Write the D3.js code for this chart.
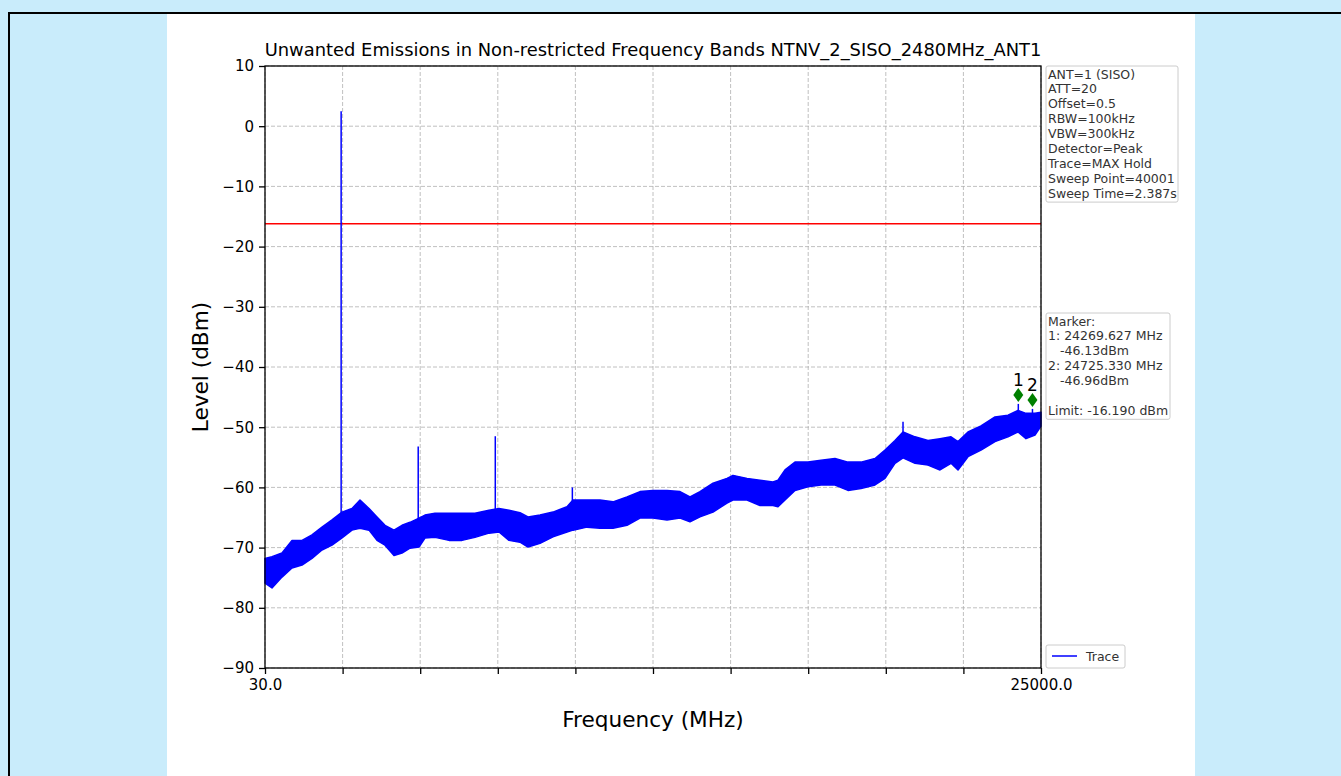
<!DOCTYPE html>
<html>
<head>
<meta charset="utf-8">
<script src="https://cdn.jsdelivr.net/npm/d3@7"></script>
<style>
  body { margin: 0; background: #c9ecfb; overflow: hidden; }
  svg text { font-family: "DejaVu Sans", sans-serif; }
</style>
</head>
<body>
<svg id="chart"></svg>
<script>
// datos
const tituloGrafica = 'Unwanted Emissions in Non-restricted Frequency Bands NTNV_2_SISO_2480MHz_ANT1'
const xTicks = [30, 2527, 5024, 7521, 10018, 12515, 15012, 17509, 20006, 22503, 25000]
const xTickLabels = ['30.0', '', '', '', '', '', '', '', '', '', '25000.0']
const yTicks = [10, 0, -10, -20, -30, -40, -50, -60, -70, -80, -90]

const traceFreq = [30, 255, 577, 899, 1221, 1542, 1864, 2186, 2508, 2829, 3087, 3377, 3634, 3891, 4181, 4438, 4696, 4985, 5178, 5500,
  5951, 6369, 6787, 7238, 7560, 7881, 8235, 8493, 8879, 9297, 9748, 9941, 10391, 10810, 11228, 11678, 12097, 12515, 12966, 13384,
  13706, 14027, 14446, 14896, 15089, 15540, 15958, 16376, 16537, 16763, 17084, 17503, 17921, 18371, 18790, 19208, 19659, 19980, 20302, 20560,
  20946, 21364, 21750, 22104, 22329, 22651, 23069, 23520, 23938, 24260, 24517, 24807, 25000]
const traceHigh = [-71.8, -71.5, -70.9, -68.8, -68.8, -67.9, -66.6, -65.4, -64.1, -63.5, -62.1, -63.5, -64.9, -66.3, -67.1, -66.3, -65.8, -65.1, -64.6, -64.3,
  -64.3, -64.3, -64.3, -63.8, -63.5, -63.8, -64.2, -64.9, -64.6, -64.1, -63.2, -62.1, -62.1, -62.1, -62.4, -61.6, -60.7, -60.5, -60.5, -60.7,
  -61.6, -60.7, -59.3, -58.5, -58.0, -58.5, -58.8, -59.1, -58.8, -57.1, -55.8, -55.8, -55.5, -55.2, -55.8, -55.8, -55.2, -53.8, -52.2, -50.8,
  -51.6, -52.2, -51.9, -51.6, -52.4, -50.8, -49.8, -48.3, -48.0, -47.2, -47.7, -47.7, -47.5]
const traceLow = [-75.9, -76.7, -74.9, -73.4, -72.9, -71.8, -70.4, -69.6, -68.4, -67.1, -66.8, -67.1, -68.8, -69.6, -71.3, -70.9, -70.1, -69.9, -68.4, -68.3,
  -68.8, -68.8, -68.3, -67.6, -67.4, -68.8, -69.1, -69.9, -69.3, -68.2, -67.4, -67.1, -66.6, -66.8, -66.8, -66.3, -65.1, -65.1, -65.4, -65.1,
  -65.7, -64.9, -64.1, -62.6, -62.1, -62.1, -63.0, -63.0, -63.2, -62.1, -60.5, -59.9, -59.6, -59.6, -60.5, -60.2, -59.6, -58.5, -56.0, -55.1,
  -56.0, -56.3, -57.1, -56.0, -57.1, -54.9, -53.8, -52.4, -51.6, -50.8, -51.9, -51.3, -49.8]

const spikeFreq = [2480, 4960, 7440, 9920, 20560, 24270, 24725]
const spikeLevel = [2.5, -53.2, -51.5, -60.0, -49.1, -46.13, -46.96]
const spikeBase = [-66, -68, -66, -66, -54, -49, -49]

const limitLevel = -16.19
const markerFreq = [24269.627, 24725.330]
const markerLevel = [-46.13, -46.96]
const markerNames = ['1', '2']

const infoLines = ['ANT=1 (SISO)', 'ATT=20', 'Offset=0.5', 'RBW=100kHz', 'VBW=300kHz', 'Detector=Peak', 'Trace=MAX Hold', 'Sweep Point=40001', 'Sweep Time=2.387s']
const markerLines = ['Marker:', '1: 24269.627 MHz', '   -46.13dBm', '2: 24725.330 MHz', '   -46.96dBm', '', 'Limit: -16.190 dBm']

const W = 1341, H = 776
const plot = { left: 265, right: 1041, top: 66, bottom: 668 }

let svg = d3.select('#chart').attr('width', W).attr('height', H)

// fondo de la pagina
svg.append('rect').attr('width', W).attr('height', H).attr('fill', '#c9ecfb')
svg.append('rect').attr('x', 167).attr('y', 14).attr('width', 1028).attr('height', H).attr('fill', '#fff')
svg.append('path').attr('d', 'M9,' + H + 'V13H' + W).attr('fill', 'none').attr('stroke', '#000').attr('stroke-width', 2)

let xScale = d3.scaleLinear().domain([30, 25000]).range([plot.left, plot.right])
let yScale = d3.scaleLinear().domain([-90, 10]).range([plot.bottom, plot.top])

// rejilla
let grid = svg.append('g')
grid.selectAll('.gx').data(xTicks).enter().append('line')
  .attr('x1', d => xScale(d)).attr('x2', d => xScale(d))
  .attr('y1', plot.top).attr('y2', plot.bottom)
grid.selectAll('.gy').data(yTicks).enter().append('line')
  .attr('x1', plot.left).attr('x2', plot.right)
  .attr('y1', d => yScale(d)).attr('y2', d => yScale(d))
grid.selectAll('line').attr('stroke', '#b0b0b0').attr('stroke-width', 0.8).attr('stroke-dasharray', '4,2')

// limite
svg.append('line')
  .attr('x1', plot.left).attr('x2', plot.right)
  .attr('y1', yScale(limitLevel)).attr('y2', yScale(limitLevel))
  .attr('stroke', '#ff0000').attr('stroke-width', 1.5)

// picos
svg.selectAll('.spike').data(spikeFreq).enter().append('line')
  .attr('x1', d => xScale(d)).attr('x2', d => xScale(d))
  .attr('y1', (d, i) => yScale(spikeLevel[i])).attr('y2', (d, i) => yScale(spikeBase[i]))
  .attr('stroke', '#0000ff').attr('stroke-width', 1.5)

// traza
let area = d3.area()
  .x((d, i) => xScale(traceFreq[i]))
  .y0((d, i) => yScale(traceLow[i]))
  .y1((d, i) => yScale(traceHigh[i]))
svg.append('path').datum(traceFreq).attr('d', area)
  .attr('fill', '#0000ff').attr('stroke', '#0000ff').attr('stroke-width', 1.5).attr('stroke-linejoin', 'round')

// marcadores
let mk = svg.selectAll('.mk').data(markerFreq).enter().append('g')
  .attr('transform', (d, i) => 'translate(' + xScale(d) + ',' + (yScale(markerLevel[i]) - 9) + ')')
mk.append('path').attr('d', 'M0,-7L5,0L0,7L-5,0Z').attr('fill', '#008000')
mk.append('text').attr('y', -9).attr('text-anchor', 'middle').attr('font-size', 17).text((d, i) => markerNames[i])

// ejes
let xAxis = d3.axisBottom(xScale).tickValues(xTicks).tickSize(6).tickPadding(5).tickFormat((d, i) => xTickLabels[i])
let yAxis = d3.axisLeft(yScale).tickValues(yTicks).tickSize(6).tickPadding(5)
  .tickFormat(d => d < 0 ? '\u2212' + Math.abs(d) : d)

let gx = svg.append('g').attr('transform', 'translate(0,' + plot.bottom + ')').call(xAxis)
let gy = svg.append('g').attr('transform', 'translate(' + plot.left + ',0)').call(yAxis)
;[gx, gy].forEach(g => {
  g.select('.domain').remove()
  g.selectAll('line').attr('stroke', '#000').attr('stroke-width', 1.3)
  g.selectAll('text').attr('font-size', 15).attr('fill', '#000').attr('font-family', 'DejaVu Sans')
})

svg.append('rect')
  .attr('x', plot.left).attr('y', plot.top)
  .attr('width', plot.right - plot.left).attr('height', plot.bottom - plot.top)
  .attr('fill', 'none').attr('stroke', '#000').attr('stroke-width', 1.3)

// textos
svg.append('text').attr('x', (plot.left + plot.right) / 2).attr('y', 56)
  .attr('text-anchor', 'middle').attr('font-size', 17.9).text(tituloGrafica)
svg.append('text').attr('x', (plot.left + plot.right) / 2).attr('y', 727)
  .attr('text-anchor', 'middle').attr('font-size', 21.6).text('Frequency (MHz)')
svg.append('text').attr('transform', 'translate(208,' + (plot.top + plot.bottom) / 2 + ') rotate(-90)')
  .attr('text-anchor', 'middle').attr('font-size', 21.6).text('Level (dBm)')

// leyendas
function cajaTexto(x, y, w, lineas) {
  let h = lineas.length * 14.9 + 2
  svg.append('rect').attr('x', x).attr('y', y).attr('width', w).attr('height', h)
    .attr('rx', 2).attr('fill', '#fff').attr('stroke', '#cccccc').attr('stroke-width', 1)
  svg.append('g').selectAll('text').data(lineas).enter().append('text')
    .attr('x', x + 2).attr('y', (d, i) => y + 12.5 + i * 14.9)
    .attr('font-size', 12.5).attr('fill', '#333').style('white-space', 'pre')
    .text(d => d)
}
cajaTexto(1046, 66, 132, infoLines)
cajaTexto(1046, 313, 124, markerLines)

svg.append('rect').attr('x', 1046).attr('y', 645).attr('width', 79).attr('height', 23)
  .attr('rx', 2).attr('fill', '#fff').attr('stroke', '#cccccc')
svg.append('line').attr('x1', 1052).attr('x2', 1077).attr('y1', 656).attr('y2', 656)
  .attr('stroke', '#0000ff').attr('stroke-width', 1.5)
svg.append('text').attr('x', 1086).attr('y', 661).attr('font-size', 12.5).attr('fill', '#333').text('Trace')
</script>
</body>
</html>
